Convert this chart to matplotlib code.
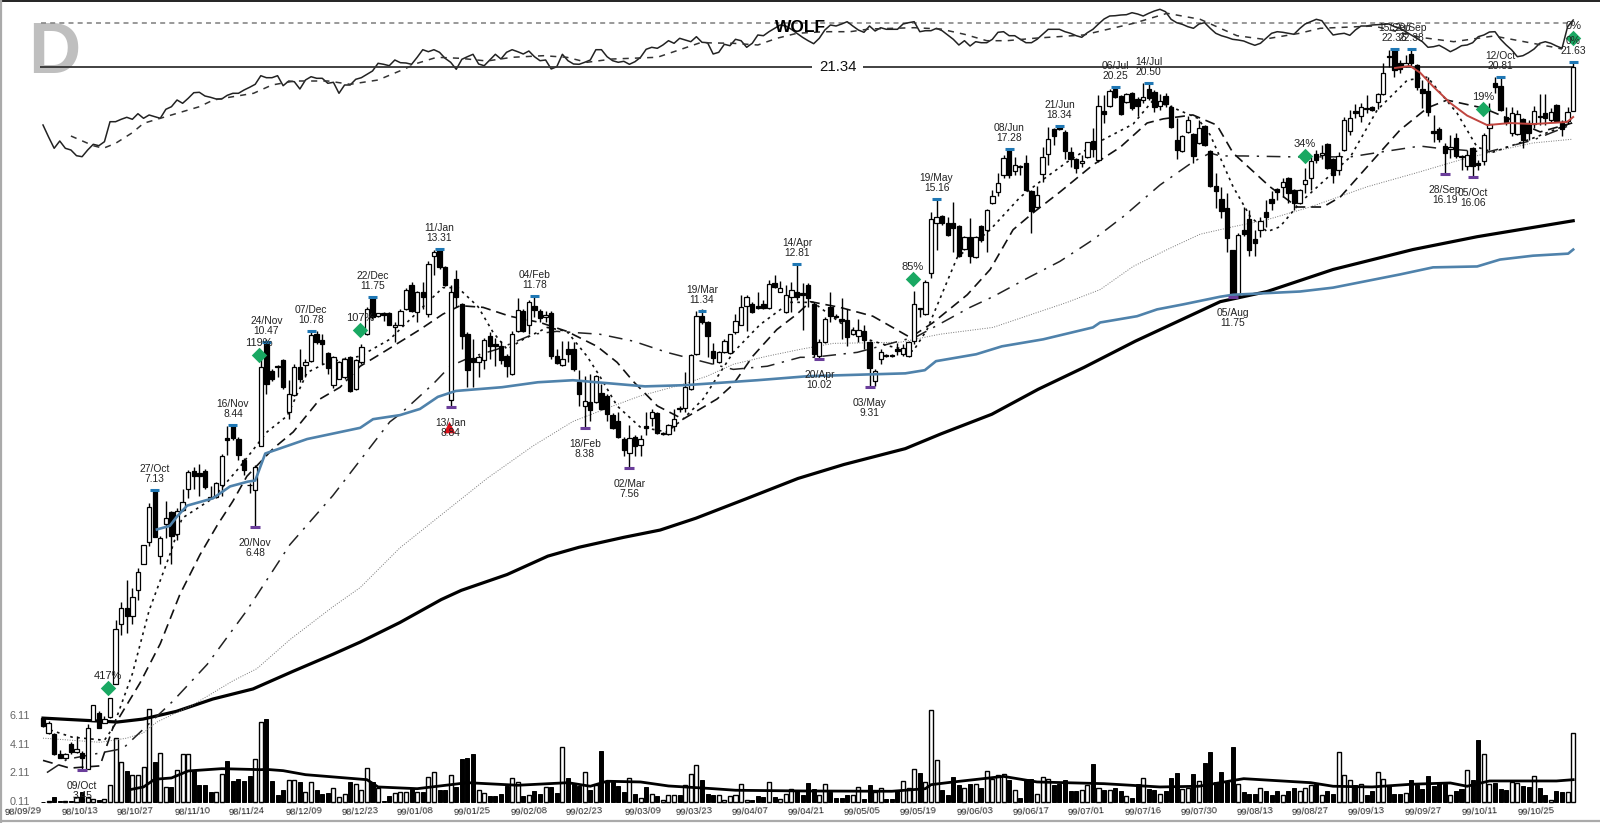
import numpy as np
import matplotlib
matplotlib.use('Agg')
import matplotlib.pyplot as plt

plt.rcParams['font.family'] = ['Liberation Sans', 'DejaVu Sans']

# daily candles
opens = [3.95,3.80,3.79,3.60,3.56,3.69,3.62,3.61,3.46,3.92,
         4.00,3.90,3.96,4.32,5.04,5.25,5.14,5.50,5.89,6.24,
         7.13,6.01,6.53,6.73,6.36,6.78,7.16,7.50,7.46,7.50,
         7.01,7.01,7.23,8.16,8.44,8.14,7.70,7.23,7.14,8.00,
         10.46,9.70,9.83,9.98,8.73,9.12,9.80,9.85,9.96,10.68,
         10.51,10.16,9.36,9.52,9.55,10.06,9.26,9.93,10.68,11.77,
         11.19,11.27,11.27,10.87,10.95,11.39,12.14,11.30,11.93,11.25,
         13.07,13.27,12.70,9.00,12.33,11.54,10.70,10.04,9.93,9.98,
         10.62,10.40,10.35,10.09,9.63,10.76,11.33,10.93,11.50,11.33,
         11.16,11.27,10.09,9.85,10.27,10.27,9.43,8.87,8.96,8.96,
         9.17,9.10,8.66,8.53,8.14,7.86,8.18,8.02,8.41,8.60,
         8.71,8.24,8.24,8.41,8.83,8.83,9.26,10.14,11.19,11.01,
         10.22,9.93,10.19,10.16,10.73,10.95,11.50,11.54,11.50,11.54,
         11.42,12.20,11.93,11.30,11.77,11.90,11.87,12.14,11.54,10.09,
         10.46,11.47,11.19,11.10,11.07,10.68,10.62,10.78,10.46,9.45,
         10.01,10.12,10.12,10.27,10.14,10.09,10.49,11.42,11.25,12.52,
         14.26,14.52,14.26,14.26,14.15,13.33,13.75,13.03,14.15,14.00,
         15.02,15.44,16.14,17.25,16.31,16.52,16.65,15.48,14.85,16.18,
         17.04,18.18,18.32,18.04,17.12,16.82,16.65,16.91,17.62,16.78,
         19.04,19.29,20.15,19.79,19.49,19.94,19.64,19.59,20.15,20.00,
         19.29,19.79,19.24,17.66,17.17,18.04,17.93,17.53,18.32,17.17,
         15.68,15.17,14.81,13.27,11.83,14.00,14.41,13.68,14.00,14.66,
         15.17,15.56,15.65,16.01,15.52,15.02,15.77,16.01,17.04,16.99,
         17.48,16.82,16.35,17.21,18.08,19.04,18.80,19.19,19.24,19.49,
         19.89,21.95,22.36,21.56,21.40,22.07,21.45,20.15,20.05,18.08,
         18.18,17.39,17.25,17.75,16.95,16.52,17.30,16.65,16.74,18.22,
         20.46,20.32,18.75,17.98,17.93,18.65,18.46,18.41,18.80,18.94,
         18.60,19.34,18.50,18.55,19.04]
highs = [3.96,3.92,3.80,3.64,3.61,3.71,3.77,3.63,3.89,4.09,
         4.02,3.97,4.16,5.09,5.33,5.65,5.54,5.83,6.19,6.90,
         7.16,6.33,6.94,6.76,6.80,7.16,7.52,7.58,7.64,7.54,
         7.21,7.29,7.84,8.41,8.46,8.18,7.74,7.27,7.62,10.01,
         10.54,9.75,9.85,10.01,9.48,9.88,10.27,10.01,10.76,10.76,
         10.70,10.19,10.09,9.96,10.06,10.09,10.01,10.40,11.45,11.80,
         11.22,11.30,11.30,11.01,11.39,12.05,12.24,11.96,12.24,12.90,
         13.30,13.33,12.74,12.14,12.60,11.57,10.73,10.54,10.12,10.57,
         10.73,10.57,10.49,10.14,10.76,11.74,11.39,11.68,11.78,11.39,
         11.33,11.33,10.27,10.49,10.49,10.46,9.73,9.58,9.63,9.60,
         9.38,9.14,8.71,8.73,8.18,8.44,8.22,8.22,8.73,8.80,
         8.73,8.28,8.46,8.80,8.87,9.68,10.14,11.33,11.39,11.04,
         10.43,10.22,10.54,10.70,11.25,11.83,11.83,11.60,11.90,11.68,
         12.30,12.46,12.27,12.14,12.24,12.81,12.20,12.20,11.60,10.54,
         11.16,11.90,11.25,11.74,11.39,10.87,11.10,10.95,10.49,9.75,
         10.27,10.14,10.14,10.43,10.40,10.49,11.96,11.42,12.30,14.66,
         15.16,14.56,14.48,15.05,14.19,13.78,14.44,13.78,14.19,14.78,
         15.52,16.23,16.99,17.28,16.91,16.57,16.99,15.52,15.68,17.34,
         18.27,18.22,18.34,18.13,17.34,16.87,16.99,16.95,18.22,19.84,
         19.84,20.15,20.25,19.84,19.94,19.99,19.74,20.46,20.50,20.10,
         19.89,19.94,19.34,18.70,17.89,18.80,17.98,18.60,18.37,17.21,
         16.23,15.65,15.40,13.30,13.89,14.85,14.74,14.00,14.48,15.13,
         15.48,15.60,16.01,16.05,15.56,15.56,16.44,16.91,17.21,17.43,
         17.53,16.87,17.12,18.75,19.09,19.39,19.44,19.84,19.29,19.94,
         21.56,22.30,22.38,21.73,22.01,22.38,21.50,20.63,20.79,18.85,
         18.27,17.53,17.89,17.98,16.99,17.21,17.34,16.78,18.00,19.44,
         20.81,20.81,19.24,19.24,19.09,18.70,18.60,19.29,19.89,19.89,
         19.19,19.39,18.60,19.24,21.63]
lows = [3.86,3.79,3.59,3.56,3.55,3.60,3.61,3.45,3.46,3.92,
        3.85,3.90,3.95,4.32,4.90,4.93,5.04,5.37,5.89,6.17,
        6.31,5.89,6.30,5.89,6.27,6.75,6.98,7.16,7.03,7.16,
        6.96,6.98,7.03,7.82,8.12,7.70,7.41,7.08,6.48,8.00,
        9.14,9.45,9.55,9.26,8.57,9.10,9.43,9.55,9.93,10.40,
        9.88,9.63,9.28,9.50,9.52,9.20,9.24,9.88,10.65,11.10,
        11.16,11.04,10.93,10.46,10.93,11.36,11.30,11.01,11.39,11.16,
        12.46,12.65,12.10,8.87,11.47,10.27,9.31,9.31,9.55,9.75,
        10.01,9.83,9.88,9.55,9.60,10.73,10.73,10.68,11.16,11.01,
        11.01,10.01,9.88,9.83,9.93,9.70,8.87,8.38,8.53,8.94,
        8.78,8.53,8.36,8.16,7.78,7.56,7.78,7.80,8.22,8.41,
        8.24,8.22,8.22,8.31,8.73,8.73,9.24,10.12,10.97,10.06,
        9.88,9.90,10.17,10.14,10.68,10.93,10.76,11.27,11.40,11.40,
        11.40,12.05,11.90,11.27,11.30,11.68,10.81,11.45,10.06,10.05,
        10.43,11.01,11.13,10.54,10.35,10.65,10.46,10.27,9.31,9.33,
        9.88,10.06,10.06,10.12,10.09,10.06,10.40,11.16,11.22,12.37,
        13.30,14.19,13.78,13.23,13.03,13.30,12.86,13.00,13.57,13.23,
        14.98,15.29,16.01,16.01,16.14,16.14,15.48,13.89,14.81,15.85,
        16.57,17.43,18.15,16.83,16.48,16.23,16.48,16.87,16.91,16.69,
        18.46,19.24,19.69,18.85,19.44,19.09,18.80,19.44,19.59,18.99,
        19.09,19.24,18.22,16.82,17.12,18.00,16.65,17.48,17.38,15.64,
        14.81,14.44,13.23,11.75,11.80,13.78,13.07,13.07,13.75,14.11,
        14.74,15.13,15.24,15.02,14.74,14.98,15.40,15.52,16.65,16.80,
        16.40,15.81,16.14,17.17,17.89,18.70,18.50,18.94,19.05,19.14,
        19.85,21.34,20.79,21.01,21.34,21.34,20.10,19.19,18.80,17.57,
        17.57,16.19,16.87,16.85,16.35,16.35,16.06,16.35,16.57,17.21,
        19.94,19.05,18.35,17.84,17.89,17.30,17.66,18.20,18.35,18.35,
        18.50,18.50,17.84,18.40,19.04]
closes = [3.87,3.90,3.60,3.56,3.60,3.62,3.65,3.56,3.85,4.09,
          3.85,3.94,4.16,4.97,5.26,5.14,5.40,5.77,6.19,6.83,
          6.31,6.30,6.63,6.33,6.75,6.91,7.48,7.40,7.40,7.18,
          6.98,7.27,7.80,8.12,8.16,7.82,7.52,7.22,7.58,9.80,
          9.38,9.50,9.80,9.31,9.14,9.80,9.52,9.93,10.65,10.46,
          10.40,9.78,10.06,9.93,10.01,9.22,9.98,10.32,11.39,11.16,
          11.27,11.22,10.95,10.95,11.33,11.99,11.33,11.90,11.77,12.80,
          13.20,12.70,12.14,11.90,11.77,10.62,9.73,9.93,10.06,10.51,
          10.35,10.35,9.98,9.83,10.70,11.36,10.76,11.62,11.36,11.13,
          11.22,10.09,9.90,10.01,10.14,9.75,9.14,8.98,8.78,9.58,
          8.80,8.68,8.38,8.18,7.92,8.16,8.00,8.14,8.38,8.73,
          8.26,8.26,8.44,8.57,8.80,9.31,10.12,11.19,11.01,10.62,
          10.04,10.19,10.49,10.68,11.04,11.47,11.77,11.30,11.42,11.42,
          12.17,12.08,12.05,11.83,11.99,11.77,11.83,11.74,10.14,10.46,
          11.10,11.19,11.16,11.04,10.59,10.81,10.81,10.51,9.78,9.70,
          10.19,10.09,10.09,10.22,10.30,10.46,11.54,11.39,12.24,14.41,
          14.48,14.26,13.82,14.07,13.07,13.75,13.07,13.75,13.64,14.74,
          15.29,15.81,16.87,16.14,16.57,16.48,15.52,14.70,15.33,16.91,
          17.70,17.84,18.18,17.17,16.82,16.44,16.74,17.57,17.25,19.29,
          18.89,20.05,19.74,18.89,19.89,19.19,19.29,19.74,19.69,19.24,
          19.54,19.39,18.27,17.21,17.84,18.60,16.95,18.22,17.43,15.68,
          15.48,14.70,13.71,11.83,13.82,13.86,13.27,13.54,14.33,14.48,
          15.02,15.44,15.85,15.40,15.02,15.52,15.93,16.74,16.78,17.08,
          16.44,16.14,16.95,18.60,18.70,18.94,19.24,19.14,19.09,19.89,
          21.01,21.89,21.17,21.23,21.56,21.56,20.27,19.94,18.99,17.98,
          17.70,17.08,17.34,16.95,16.91,16.99,16.52,16.57,17.89,18.41,
          20.27,19.09,18.50,18.94,18.89,17.66,17.98,19.04,18.75,18.70,
          18.99,18.55,18.18,18.99,21.34]

volume = [0.11,0.16,0.46,0.16,0.16,0.16,0.46,0.81,0.46,0.34,
          0.23,0.30,1.28,4.61,2.91,2.28,1.97,1.97,2.56,6.64,
          2.91,3.54,1.16,1.16,2.37,3.44,3.44,2.28,1.28,1.28,
          0.81,0.81,2.09,2.98,1.58,1.74,1.56,1.90,3.14,5.73,
          5.89,1.58,0.58,0.97,1.63,1.63,1.51,0.81,1.51,0.93,
          0.69,0.74,1.11,0.46,0.65,1.51,1.35,0.97,2.51,1.51,
          1.11,0.18,0.51,0.74,0.81,0.81,1.04,0.81,0.81,1.86,
          2.21,0.93,0.93,1.97,1.16,3.14,3.21,3.44,0.93,0.74,
          0.53,0.51,0.65,1.21,1.81,1.51,0.53,0.58,0.88,0.65,
          1.16,1.16,0.74,3.96,1.79,1.35,1.21,2.21,0.93,1.28,
          3.65,1.56,1.51,1.21,0.81,1.81,0.69,0.41,1.16,0.69,
          0.51,0.23,0.58,0.62,0.62,1.28,2.09,2.67,1.63,0.69,
          0.62,0.62,0.27,0.51,0.58,1.35,0.23,0.23,0.53,0.46,
          1.51,0.46,0.30,0.69,1.04,0.93,0.58,1.44,1.04,0.58,
          1.35,0.81,0.41,0.41,0.62,0.58,1.16,0.34,1.28,0.81,
          1.11,0.34,0.34,0.93,1.58,1.09,2.44,2.14,1.51,6.52,
          3.07,0.97,0.58,1.86,1.28,1.11,1.35,1.35,1.11,2.28,
          1.74,2.02,2.09,1.67,0.97,0.41,1.74,1.74,0.69,1.86,
          1.72,1.28,1.39,1.67,0.88,0.86,0.93,1.32,2.74,1.11,
          0.97,0.93,1.11,0.86,0.51,0.39,1.39,1.79,1.04,0.93,
          0.69,0.88,1.81,2.11,1.04,1.11,2.09,1.58,2.84,3.63,
          1.51,2.21,1.51,3.96,1.35,0.81,0.69,0.69,1.11,0.88,
          0.58,0.86,0.62,0.88,1.11,0.86,1.11,1.28,1.39,0.58,
          0.88,0.69,3.63,1.97,1.67,1.28,1.39,0.58,0.86,2.21,
          1.74,1.21,0.69,0.69,0.76,1.67,1.28,1.04,1.91,1.21,
          1.44,1.39,0.62,0.86,1.04,2.37,1.67,4.42,3.44,1.35,
          1.46,1.04,0.93,1.51,1.44,1.21,1.16,1.91,1.11,0.62,
          0.27,0.88,0.81,0.81,4.96]

vol_ma_idx = [15,18,20,23,26,32,39,40,43,47,58,60,67,76,85,94,98,101,107,112,120,124,136,
              152,158,159,163,172,178,190,200,207,215,227,231,238,245,252,255,259,271,274]
vol_ma = [0.93,1.16,1.70,1.79,2.28,2.44,2.37,2.39,2.30,2.02,1.67,1.16,1.04,1.46,1.28,1.46,1.21,1.56,1.51,1.23,1.04,0.93,0.88,
          0.86,1.04,1.32,1.51,1.90,1.51,1.39,1.16,1.21,1.74,1.46,1.21,1.16,1.35,1.44,1.21,1.58,1.58,1.67]

# moving averages
ma1_idx = [1.3,5.2,11,12.5,16,19,22.7,24.9,27.6,30.4,35.3,40.1,43.7,47.3,50.9,56.8,62.1,67,71.6,74.3,77.9,80.6,83.1,86,90.3,93.8,97.4,99.7,102.8,106.9,111.7,114.6,118.2,123.6,128.4,133.8,137.9,142.7,147.6,151.7,155.8,158.3,163.7,169.6,175,178.5,183.4,188.7,195.2,198.8,202.4,206.7,209,213.1,216.2,219.2,221.5,225.1,230.5,234.1,238.9,244.3,247.9,253.2,256.8,259.7,266.8,273.8]
ma1 = [3.83,3.76,3.73,3.85,4.43,5.22,6.03,6.63,6.80,6.98,7.58,8.29,8.64,9.67,9.93,10.09,10.54,11.30,12.05,12.05,11.47,10.73,10.27,10.54,10.87,10.76,10.09,9.58,8.87,8.40,8.29,8.57,9.03,10.19,10.95,11.60,11.60,11.01,10.54,10.35,10.22,10.81,13.03,14.00,15.24,15.85,16.69,17.53,18.41,19.59,19.20,18.70,17.90,15.65,14.48,13.93,14.11,15.02,16.13,16.91,19.09,20.63,20.79,18.94,17.34,17.12,17.75,18.46]
ma2_idx = [0,4.8,10.2,12.5,17.4,21,24.5,28.1,31.2,34,36.5,41.2,44.8,49.6,53.2,56.8,60.9,67.5,71.6,74.7,78.8,83.6,89,93.8,99.2,102.8,105.7,110,114.6,120.7,123.6,127.1,131.4,135,137.4,142.7,148.6,155.3,159.4,165.5,169.6,173.7,177.3,182.1,188,192.9,197.7,200.6,205.9,210.2,213.1,219.7,224.6,229.2,232.3,237.1,243,247.9,251.4,257.9,262.2,268.1,273.8]
ma2 = [3.54,3.47,3.49,3.85,4.33,4.79,5.44,6.03,6.51,6.93,7.39,7.94,8.29,9.03,9.31,9.83,10.19,10.81,11.25,11.50,11.45,11.19,11.01,10.76,10.35,9.93,9.45,8.87,8.57,9.03,9.38,10.09,10.81,11.25,11.62,11.45,11.19,10.59,11.01,11.83,12.63,14.00,14.63,15.44,16.56,17.34,18.46,18.66,18.85,18.36,17.08,15.65,14.85,14.85,15.24,16.48,18.13,19.20,19.59,19.19,18.70,18.04,18.46]
ma3_idx = [0.7,4.3,14.3,23.3,29.4,36.5,44.2,51.9,62.1,63.9,69.8,72.9,76.5,81.3,87.8,92,99.7,105.7,111.7,120,123.6,129.7,135.6,137.9,145.8,156.5,166,170.1,176.8,182.1,188,193.4,200,205.9,209,210.8,214.9,223.9,234.1,239.5,246.6,249.6,258.6,266.8,273.5]
ma3 = [3.43,3.55,3.65,4.13,4.54,5.22,6.19,7.03,8.51,8.68,9.38,9.83,10.06,10.27,10.68,10.76,10.68,10.49,10.19,9.88,9.75,9.83,10.06,10.06,10.19,10.62,11.45,11.77,12.40,12.90,13.64,14.48,15.72,16.69,17.08,16.95,16.95,16.91,16.91,17.12,17.39,17.30,17.12,17.66,18.36]
ma4_idx = [0,10.2,15,17.9,20.4,26.9,34,38.3,44.2,51.9,56.8,63.9,79.5,87.8,94.9,102.1,106.9,114.6,118.9,123.6,129.7,135.6,141.5,153.5,160.6,170.1,183.4,189.3,195.2,201.3,207.2,213.1,219.2,226.9,237.1,246,253.8,260.9,266.8,273.8]
ma4 = [3.75,3.71,3.75,3.80,3.91,4.09,4.35,4.49,4.84,5.27,5.54,6.14,7.35,8.00,8.52,8.87,9.10,9.38,9.58,9.88,10.09,10.27,10.43,10.46,10.68,10.87,11.60,11.99,12.73,13.30,13.84,14.11,14.37,14.85,15.65,16.23,16.78,17.21,17.53,17.70]
ma5_idx = [0,13.3,17.9,23.9,30.4,37.6,44.8,51.9,56.8,63.9,71.3,74.9,83.1,90.4,96,104,110.5,116.9,126.1,135.2,143.4,154.4,160.8,169.9,178.2,186.4,195.6,201.3,210.8,219.2,231,245.3,256.8,274]
ma5 = [3.95,3.91,3.94,4.02,4.15,4.26,4.46,4.66,4.81,5.06,5.37,5.50,5.73,6.01,6.15,6.31,6.43,6.63,6.98,7.35,7.62,7.94,8.25,8.68,9.26,9.80,10.49,10.90,11.62,11.93,12.63,13.30,13.75,14.33]
blue_idx = [20.4,22.7,24,25.8,30.4,33.5,36.7,38,39.8,47.3,56.8,59.1,63.9,67.5,70.7,73.9,82.2,88.6,94.9,107.8,115.1,127.9,137,154.4,157.9,159.9,167.1,171.7,179.1,188,189.3,195.9,199.5,204.2,210.8,213.1,225.1,231,243,248.9,256.8,260.9,266.8,273.1,274]
blue = [6.44,6.50,6.66,6.85,6.98,7.20,7.29,7.31,7.84,8.14,8.38,8.57,8.66,8.80,9.08,9.22,9.31,9.43,9.48,9.33,9.36,9.48,9.58,9.65,9.73,9.96,10.14,10.35,10.54,10.87,11.01,11.19,11.39,11.54,11.77,11.83,11.93,12.05,12.47,12.70,12.73,12.96,13.09,13.16,13.30]
red_idx = [242.1,244.8,246.6,248.9,252,255,258.6,262.7,266.8,272.9,274]
red = [21.29,21.40,21.03,20.30,19.44,18.82,18.36,18.46,18.41,18.51,18.75]

# relative strength panel at the top
rs_line = [45,33,21.7,29,21.7,20,14.3,13.3,20,25.7,
           24.3,28.3,48.3,48.3,50.7,52.7,50.7,56.3,51.7,55,
           53.3,51.7,60.7,63.3,70,66.7,71.7,77.3,77.7,74,
           72.7,71,71,74.7,76.7,76.7,80,82.7,85.7,94.3,
           92.3,92.3,94.3,84.3,89,88.3,81,90,93.3,91.7,
           91.7,86.7,87.7,76.7,85,85,90.7,92.3,95.7,99,
           106.7,105.7,104.3,110,107.3,107,105.7,112.7,120.3,118.3,
           120.3,117.7,111.7,107.7,100.7,110.7,113.3,115.7,106,104.3,
           110,115.7,111,117.7,120.3,118.3,116,119,113.3,109.3,
           110,101,103.3,115.7,109.3,106,105.7,107.7,110,120.3,
           120.3,113.3,109.3,107.7,108.7,105.7,108.3,112.7,120.7,122.7,
           121.7,125,129.3,126.7,131.7,130,128.3,133.3,127.7,127.3,
           116,117.7,125.7,124.3,130.7,129.3,122.7,126.7,135,134.3,
           138.3,141.7,145,144,140.7,136.7,132.7,129.3,126.3,131.7,
           140,145,144,146,148.3,144,140,137.7,144,139,
           142.3,140.7,140.7,140.7,146,147.3,148.3,138.3,139.3,139.3,
           141.7,139.3,135,130.7,125,129.3,124,128.3,127.3,127.3,
           130.7,137.7,138.3,134.3,134.3,130.7,127.3,127.3,130.7,135.7,
           140.7,140.7,140.7,138.3,136.7,134.3,132.7,137.3,140.7,146,
           151,154,154.3,155,155.3,157.3,156,154,156.7,159,
           160.7,158.3,150.7,147.3,145.7,143.3,141.7,146,147.3,141.7,
           136.7,134.3,132.7,130.7,130,129,126.7,124.7,126.7,131.7,
           136.7,138.3,137.7,136.7,135.7,141.3,146,148.3,150.7,149.3,
           141.7,135,136,136.7,134.7,140,144,144,145,145.3,
           145.7,146,143.3,141.7,138.3,135,131.7,128.3,122.7,123.3,
           124.7,121.7,118.3,121,124.3,125,127.3,133.3,135,138,
           138.3,130.7,125,120,113.3,114.3,117.3,121,126.7,128.3,
           126.7,124,121.7,143.3,150]
rs_avg_idx = [5,9,10.8,13,16,18,21,28,30.5,34,37.7,41,45,51,55,60,64,67,70.5,74.7,79.5,84,89.6,93.8,97.4,102,110,113.5,117.7,123.6,128,131.4,135,140,144.5,148,156,160.7,165,169,172.6,177.4,186.3,195.3,201.3,207.2,213.8,218.6,225,228.7,238.3,246.6,252.6,259.8,270,272]
rs_avg = [34,24.3,21.7,26.7,37.3,46.7,51.7,63.3,70,73.3,76.7,85,89,89,85.7,90,99.3,106.7,112.7,111.7,109,112.7,114.3,112.7,107.7,111,112.7,119.3,127.3,126.7,125,131.7,136.7,138.3,138.3,141,142.3,141,135.7,129.3,129.3,131.7,135,146.7,156.7,150.7,134.3,130.7,136.7,141.7,144,132.7,128.3,134,123.3,121]
rs_level = 147.3

# swing labels
top_idx = [20,34,40,48,59,71,88,118,135,160,173,182,192,198,242,245,261,274]
top_dates = ['27/Oct','16/Nov','24/Nov','07/Dec','22/Dec','11/Jan','04/Feb','19/Mar','14/Apr','19/May','08/Jun','21/Jun','06/Jul','14/Jul','15/Sep','20/Sep','12/Oct','0%']
top_vals = [7.13,8.44,10.47,10.78,11.75,13.31,11.78,11.34,12.81,15.16,17.28,18.34,20.25,20.50,22.36,22.38,20.81,21.63]
low_idx = [7,38,73,97,105,139,148,213,251,256]
low_dates = ['09/Oct','20/Nov','13/Jan','18/Feb','02/Mar','20/Apr','03/May','05/Aug','28/Sep','05/Oct']
low_vals = [3.45,6.48,8.84,8.38,7.56,10.02,9.31,11.75,16.19,16.06]

diamond_idx = [11.6,38.7,56.8,155.8,226,257.9,274]
diamond_price = [4.27,10.12,10.81,12.33,16.95,19.14,23.0]
diamond_text = ['417%','119%','107%','85%','34%','19%','0%']
warn_idx = [72.7]
warn_price = [8.4]

last_close = 21.34
vol_ticks = [0.11,2.11,4.11,6.11]
date_idx = [-3.6,6.6,16.5,26.7,36.5,46.7,56.8,66.6,76.8,87,96.9,107.4,116.6,126.6,136.6,146.7,156.7,166.9,176.9,186.8,197,207,217,226.9,236.9,247.1,257.3,267.4]
date_labels = ['98/09/29','98/10/13','98/10/27','98/11/10','98/11/24','98/12/09','98/12/23','99/01/08','99/01/25','99/02/08','99/02/23','99/03/09','99/03/23','99/04/07','99/04/21','99/05/05','99/05/19','99/06/03','99/06/17','99/07/01','99/07/16','99/07/30','99/08/13','99/08/27','99/09/13','99/09/27','99/10/11','99/10/25']

o = np.array(opens)
c = np.array(closes)
x = np.arange(len(o))
up = c >= o
body_top = np.maximum(o, c)
body_bot = np.minimum(o, c)

fig = plt.figure(figsize=(16, 8.23), dpi=100, facecolor='white')
xlim = (-7.7, 278.8)

# big letter goes behind everything
fig.text(54 / 1600, 1 - 54 / 823, 'D', fontsize=52, fontweight='bold', color='#bfbfbf',
         ha='center', va='center', zorder=-1)

# volume panel
ax_vol = fig.add_axes([0, 0, 1, 1])
ax_vol.set_xlim(*xlim)
ax_vol.set_ylim(-1.36, 56.2)
ax_vol.axis('off')
vol = np.array(volume)
ax_vol.bar(x[up], vol[up] - 0.11, bottom=0.11, width=0.72, facecolor='white', edgecolor='black', linewidth=1)
ax_vol.bar(x[~up], vol[~up] - 0.11, bottom=0.11, width=0.72, facecolor='black', edgecolor='black', linewidth=0.7)
ax_vol.plot(vol_ma_idx, vol_ma, color='black', lw=2)
for t in vol_ticks:
    ax_vol.annotate(f'{t:.2f}', (0, t), xycoords=('axes fraction', 'data'), xytext=(10, 0),
                    textcoords='offset pixels', color='#666666', fontsize=7.8, va='center')

# strength panel
ax_rs = fig.add_axes([0, 0, 1, 1])
ax_rs.set_xlim(*xlim)
ax_rs.set_ylim(-653, 170)
ax_rs.axis('off')
ax_rs.hlines(rs_level, -0.3, 274, color='#888888', lw=1.2, linestyles=(0, (3, 2.5)))
ax_rs.plot(x, rs_line, color='#222222', lw=1.1)
ax_rs.plot(rs_avg_idx, rs_avg, color='#333333', lw=1.1, ls=(0, (4, 4)))

# price panel, log scale
ax = fig.add_axes([0, 0, 1, 1])
ax.set_yscale('log')
ax.set_xlim(*xlim)
ax.set_ylim(3.01, 25.39)
ax.axis('off')

ax.plot(ma5_idx, ma5, color='black', lw=2.3, zorder=2)
ax.plot(blue_idx, blue, color='#4f82ab', lw=1.9, zorder=4)
ax.plot(ma4_idx, ma4, color='#777777', lw=0.7, ls=(0, (1, 1.5)), zorder=2)
ax.plot(ma3_idx, ma3, color='#222222', lw=1.1, ls=(0, (9, 5, 1.5, 5)), zorder=2)
ax.plot(ma2_idx, ma2, color='#111111', lw=1.2, ls=(0, (6, 3.5)), zorder=2)
ax.plot(ma1_idx, ma1, color='#111111', lw=1.2, ls=(0, (1.6, 2.6)), zorder=2)

ax.vlines(x, lows, highs, color='black', lw=1, zorder=3)
ax.bar(x[up], (body_top - body_bot)[up], bottom=body_bot[up], width=0.78,
       facecolor='white', edgecolor='black', linewidth=0.9, zorder=3)
ax.bar(x[~up], (body_top - body_bot)[~up], bottom=body_bot[~up], width=0.78,
       facecolor='black', edgecolor='black', linewidth=0.9, zorder=3)
ax.plot(red_idx, red, color='#c0453f', lw=1.4, zorder=5)

# last close line
ax.hlines(last_close, -0.5, 274, color='#333333', lw=1.3, zorder=1)
ax.text(142.3, last_close, f'{last_close:.2f}', ha='center', va='center', fontsize=10.8,
        color='#111111', bbox=dict(fc='white', ec='none', pad=5), zorder=1.5)

# swing highs and lows
ax.hlines(top_vals, np.array(top_idx) - 0.8, np.array(top_idx) + 0.8, color='#1f77b4', lw=2.2, zorder=6)
ax.hlines(low_vals, np.array(low_idx) - 0.9, np.array(low_idx) + 0.9, color='#6a3d9a', lw=2.2, zorder=6)
for i, d, v in zip(top_idx, top_dates, top_vals):
    ax.annotate(f'{d}\n{v:.2f}', (i, v), xytext=(0, 6), textcoords='offset pixels', ha='center',
                va='bottom', fontsize=7.4, color='#222222', linespacing=1.0, zorder=7)
for i, d, v in zip(low_idx, low_dates, low_vals):
    ax.annotate(f'{d}\n{v:.2f}', (i, v), xytext=(0, -11), textcoords='offset pixels', ha='center',
                va='top', fontsize=7.4, color='#222222', linespacing=1.0, zorder=7)

ax.scatter(diamond_idx, diamond_price, marker='D', s=62, color='#19a862', linewidths=0, zorder=6)
for i, p, t in zip(diamond_idx, diamond_price, diamond_text):
    ax.annotate(t, (i, p), xytext=(0, 12), textcoords='offset pixels', ha='center', va='center',
                fontsize=8, color='#222222', zorder=7)
ax.scatter(warn_idx, warn_price, marker='^', s=70, color='#e0101a', linewidths=0, zorder=6)

# dates along the bottom
trans = ax.get_xaxis_transform()
for i, d in zip(date_idx, date_labels):
    ax.text(i, 11 / 823, d, transform=trans, ha='center', va='center', fontsize=6.8,
            color='#222222', rotation=3, rotation_mode='anchor')

# frame and title
ax.plot([0, 1], [0.9985, 0.9985], transform=ax.transAxes, color='#111111', lw=1.3, clip_on=False)
ax.plot([0.0006, 0.0006], [0, 1], transform=ax.transAxes, color='#aaaaaa', lw=1.6, clip_on=False)
ax.plot([0, 1], [0.0024, 0.0024], transform=ax.transAxes, color='#aaaaaa', lw=1.6, clip_on=False)
fig.text(801 / 1600, 1 - 28 / 823, 'WOLF', fontsize=12.5, fontweight='bold', color='black',
         ha='center', va='center')

fig.savefig('out.png', dpi=100)
